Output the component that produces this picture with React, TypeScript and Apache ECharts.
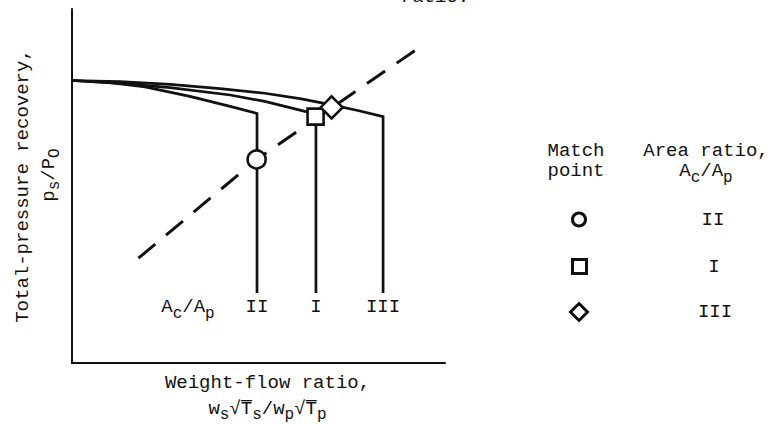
import React, { useEffect, useRef } from 'react';
import * as echarts from 'echarts';

// ---- data (abstract units, axes 0..10) ----
const areaRatios = ['II', 'I', 'III'];
const curveII = [[0, 7.98], [1.02, 7.92], [1.96, 7.8], [3.16, 7.53], [4.24, 7.25], [4.96, 7.05]];
const curveI = [[0, 7.98], [1.29, 7.9], [2.63, 7.78], [4.24, 7.57], [5.17, 7.39], [6.54, 7.03]];
const curveIII = [[0, 7.98], [1.29, 7.95], [2.63, 7.87], [3.97, 7.75], [5.17, 7.62], [6.11, 7.47], [6.97, 7.29], [7.72, 7.12], [8.34, 6.96]];
const dropBottom = 1.98;
const matchPoints = [[4.95, 5.75], [6.53, 6.96], [6.96, 7.22]];
const matchSymbols = ['circle', 'rect', 'diamond'];
const matchSymbolSizes = [18, 16, 22];
const legendIconSizes = [13, 14, 17];
const operatingLine = [[1.78, 2.96], [4.95, 5.75], [9.24, 8.86]];

const FONT = '"Liberation Mono", "DejaVu Sans Mono", monospace';
const INK = '#111';

const subRich = {
  m: { fontSize: 19, fontFamily: FONT, lineHeight: 20, fill: INK, color: INK, verticalAlign: 'middle' },
  s: { fontSize: 16, fontFamily: FONT, lineHeight: 20, padding: [14, 0, 0, 0], verticalAlign: 'middle', fill: INK, color: INK },
};
const axisRich = {
  t: { fontFamily: FONT, fontSize: 19, lineHeight: 26, color: INK, verticalAlign: 'middle' },
  tp: { fontFamily: FONT, fontSize: 19, lineHeight: 26, color: INK, verticalAlign: 'middle', padding: [0, 0, 0, 22] },
  s: { fontFamily: FONT, fontSize: 16, lineHeight: 26, color: INK, verticalAlign: 'middle', padding: [12, 0, 0, 0] },
};

export default function App() {
  const ref = useRef<HTMLDivElement>(null);
  useEffect(() => {
    document.body.style.margin = '0';
    const chart = echarts.init(ref.current!, null, { renderer: 'svg' });
    const curves = [curveII, curveI, curveIII];
    const curveSeries = curves.map((c, i) => {
      const last = c[c.length - 1];
      return {
        name: 'Curve ' + areaRatios[i],
        type: 'line',
        symbol: 'circle',
        symbolSize: 0,
        showSymbol: true,
        silent: true,
        lineStyle: { color: INK, width: 2.7, join: 'miter' },
        itemStyle: { color: INK },
        z: 2,
        data: [
          ...c.map((p) => ({ value: p })),
          {
            value: [last[0], dropBottom],
            label: {
              show: true,
              position: 'bottom',
              distance: 4,
              formatter: areaRatios[i],
              fontFamily: FONT,
              fontSize: 19,
              lineHeight: 20,
              color: INK,
            },
          },
        ],
      };
    });
    const markerSeries = areaRatios.map((n, i) => ({
      name: n,
      type: 'scatter',
      symbol: matchSymbols[i],
      symbolSize: matchSymbolSizes[i],
      itemStyle: { color: '#fff', borderColor: INK, borderWidth: 2.6, opacity: 1 },
      emphasis: { disabled: true },
      z: 5,
      data: [matchPoints[i]],
    }));
    const legendTops = [210, 257, 302];
    const legendLefts = [571, 571, 569];
    const option: any = {
      animation: false,
      textStyle: { fontFamily: FONT },
      grid: { left: 72, top: 9, width: 373, height: 354, containLabel: false, outerBoundsMode: 'none' },
      xAxis: {
        type: 'value',
        min: 0,
        max: 10,
        axisLine: { show: true, onZero: false, lineStyle: { color: INK, width: 2 } },
        axisTick: { show: false },
        axisLabel: { show: false },
        splitLine: { show: false },
        name: 'Weight-flow ratio,\n{t|w}{s|s}{t|√T\u0305}{s|s}{t|/w}{s|p}{t|√T\u0305}{s|p}',
        nameLocation: 'middle',
        nameGap: 7,
        nameTextStyle: {
          fontFamily: FONT,
          fontSize: 19,
          lineHeight: 26,
          color: INK,
          padding: [0, 0, 0, 18],
          verticalAlign: 'top',
          rich: axisRich,
        },
      },
      yAxis: {
        type: 'value',
        min: 0,
        max: 10,
        axisLine: { show: true, onZero: false, lineStyle: { color: INK, width: 2 } },
        axisTick: { show: false },
        axisLabel: { show: false },
        splitLine: { show: false },
        name: 'Total-pressure recovery,\n{tp|p}{s|s}{t|/P}{s|O}',
        nameLocation: 'middle',
        nameRotate: 90,
        nameGap: 10,
        nameTextStyle: {
          fontFamily: FONT,
          fontSize: 19,
          lineHeight: 26,
          color: INK,
          rich: axisRich,
        },
      },
      legend: areaRatios.map((n, i) => ({
        data: [{ name: n, icon: matchSymbols[i] }],
        left: legendLefts[i],
        top: legendTops[i],
        orient: 'vertical',
        padding: 0,
        itemWidth: legendIconSizes[i],
        itemHeight: legendIconSizes[i],
        selectedMode: false,
        itemStyle: { color: '#fff', borderColor: INK, borderWidth: 3, opacity: 1 },
        formatter: (name: string) => `{sp| }{r|${name}}`,
        textStyle: {
          fontFamily: FONT,
          fontSize: 19,
          color: INK,
          rich: {
            sp: { width: 90, fontSize: 19, lineHeight: 20, fontFamily: FONT },
            r: { width: 65, align: 'center', fontSize: 19, lineHeight: 20, fontFamily: FONT, color: INK },
          },
        },
      })),
      graphic: [
        {
          type: 'text',
          x: 435,
          y: -13,
          silent: true,
          style: { text: 'ratio.', fontFamily: FONT, fontSize: 19, fill: INK, align: 'center', verticalAlign: 'top' },
        },
        {
          type: 'text',
          x: 188,
          y: 297,
          silent: true,
          style: {
            text: '{m|A}{s|c}{m|/A}{s|p}',
            fontFamily: FONT,
            fontSize: 19,
            fill: INK,
            align: 'center',
            verticalAlign: 'top',
            rich: subRich,
          },
        },
        {
          type: 'text',
          x: 576,
          y: 141,
          silent: true,
          style: {
            text: 'Match\npoint',
            fontFamily: FONT,
            fontSize: 19,
            lineHeight: 20,
            fill: INK,
            align: 'center',
            verticalAlign: 'top',
          },
        },
        {
          type: 'text',
          x: 706,
          y: 141,
          silent: true,
          style: {
            text: 'Area ratio,\n{m|A}{s|c}{m|/A}{s|p}',
            fontFamily: FONT,
            fontSize: 19,
            lineHeight: 20,
            fill: INK,
            align: 'center',
            verticalAlign: 'top',
            rich: subRich,
          },
        },
      ],
      series: [
        ...curveSeries,
        {
          name: 'Operating line',
          type: 'line',
          symbol: 'none',
          silent: true,
          lineStyle: { color: INK, width: 3, type: [22, 14], cap: 'butt' },
          z: 3,
          data: operatingLine,
        },
        ...markerSeries,
      ],
    };
    chart.setOption(option);
    return () => chart.dispose();
  }, []);
  return <div ref={ref} style={{ width: 776, height: 424 }} />;
}
